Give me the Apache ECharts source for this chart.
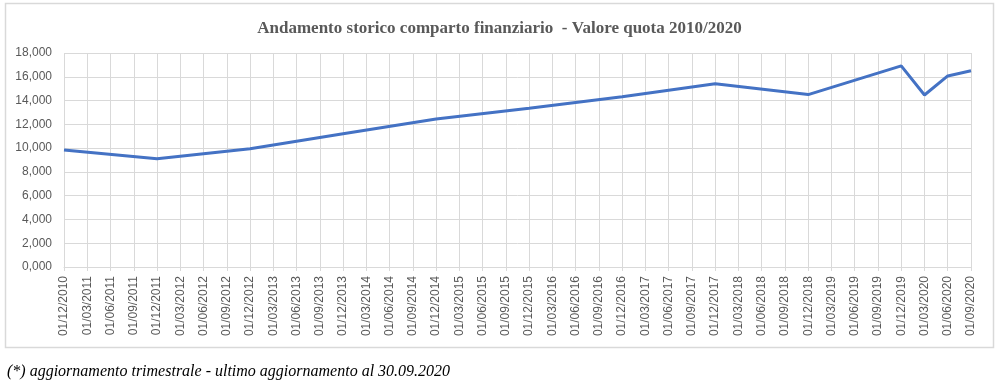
<!DOCTYPE html>
<html>
<head>
<meta charset="utf-8">
<style>
html,body{margin:0;padding:0;background:#fff;}
#chart{width:999px;height:392px;}
</style>
<script src="https://cdn.jsdelivr.net/npm/echarts@6/dist/echarts.min.js"></script>
</head>
<body>
<div id="chart"></div>
<script>
// Quarterly categories (x axis)
const categories = [
  '01/12/2010',
  '01/03/2011','01/06/2011','01/09/2011','01/12/2011',
  '01/03/2012','01/06/2012','01/09/2012','01/12/2012',
  '01/03/2013','01/06/2013','01/09/2013','01/12/2013',
  '01/03/2014','01/06/2014','01/09/2014','01/12/2014',
  '01/03/2015','01/06/2015','01/09/2015','01/12/2015',
  '01/03/2016','01/06/2016','01/09/2016','01/12/2016',
  '01/03/2017','01/06/2017','01/09/2017','01/12/2017',
  '01/03/2018','01/06/2018','01/09/2018','01/12/2018',
  '01/03/2019','01/06/2019','01/09/2019','01/12/2019',
  '01/03/2020','01/06/2020','01/09/2020'
];
// Valore quota (null = no value at that date, line connects across)
const valoreQuota = [
  9850,
  null, null, null, 9100,
  null, null, null, 9950,
  null, null, null, 11200,
  null, null, null, 12450,
  null, null, null, 13350,
  null, null, null, 14320,
  null, null, null, 15420,
  null, null, null, 14500,
  null, null, null, 16920,
  14470, 16070, 16500
];
const yTickValues = [0, 2000, 4000, 6000, 8000, 10000, 12000, 14000, 16000, 18000];
const yTickLabels = ['0,000','2,000','4,000','6,000','8,000','10,000','12,000','14,000','16,000','18,000'];
const titleText = 'Andamento storico comparto finanziario  - Valore quota 2010/2020';
const footnoteText = '(*) aggiornamento trimestrale - ultimo aggiornamento al 30.09.2020';

const chart = echarts.init(document.getElementById('chart'), null, {renderer: 'canvas'});
const grid = '#d9d9d9';
chart.setOption({
  animation: false,
  backgroundColor: '#ffffff',
  title: {
    text: titleText,
    left: 'center',
    top: 15,
    textStyle: {
      fontFamily: '"Liberation Serif", "DejaVu Serif", serif',
      fontSize: 17,
      fontWeight: 'bold',
      color: '#595959'
    }
  },
  graphic: [
    {
      type: 'rect',
      shape: {x: 5.5, y: 3.5, width: 988, height: 344},
      style: {fill: 'none', stroke: grid, lineWidth: 1.5},
      z: -1
    },
    {
      type: 'text',
      left: 7,
      top: 364,
      style: {
        text: footnoteText,
        fontFamily: '"Liberation Serif", "DejaVu Serif", serif',
        fontStyle: 'italic',
        fontSize: 16,
        fill: '#000000'
      }
    }
  ],
  grid: {left: 64, right: 28, top: 53, bottom: 125, containLabel: false},
  xAxis: {
    type: 'category',
    data: categories,
    boundaryGap: false,
    axisLine: {show: true, lineStyle: {color: grid, width: 1}},
    axisTick: {show: true, length: 4, alignWithLabel: true, lineStyle: {color: grid}},
    splitLine: {show: true, lineStyle: {color: grid, width: 1}},
    axisLabel: {
      interval: 0,
      rotate: 90,
      margin: 9,
      fontFamily: '"Liberation Sans", Arial, sans-serif',
      fontSize: 12,
      color: '#595959'
    }
  },
  yAxis: {
    type: 'value',
    min: 0,
    max: 18000,
    interval: 2000,
    axisLine: {show: false},
    axisTick: {show: false},
    splitLine: {show: true, lineStyle: {color: grid, width: 1}},
    axisLabel: {
      margin: 12,
      fontFamily: '"Liberation Sans", Arial, sans-serif',
      fontSize: 12,
      color: '#595959',
      formatter: function (v) {
        const i = yTickValues.indexOf(v);
        return i >= 0 ? yTickLabels[i] : '';
      }
    }
  },
  series: [{
    type: 'line',
    data: valoreQuota,
    connectNulls: true,
    showSymbol: false,
    symbol: 'none',
    lineStyle: {color: '#4472C4', width: 3},
    itemStyle: {color: '#4472C4'}
  }]
});
</script>
</body>
</html>
